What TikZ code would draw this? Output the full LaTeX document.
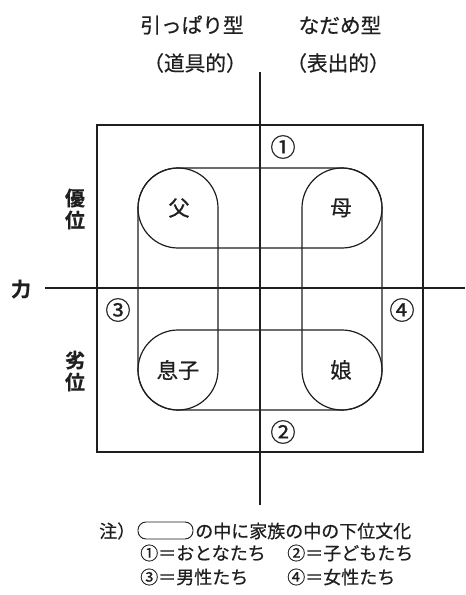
\documentclass[tikz,border=0pt]{standalone}
\usepackage{fontspec}
\setmainfont{Noto Sans CJK JP}[BoldFont={* Bold},FakeBold=0.6]
\usetikzlibrary{shapes.misc}
\definecolor{ink}{gray}{0.12}
\begin{document}
\begin{tikzpicture}[x=0.75pt,y=-0.75pt,
  frame/.style={draw=ink,line width=1.2pt},
  axis/.style={draw=ink,line width=0.8pt},
  pill/.style={draw=ink,line width=0.9pt,rounded corners=30pt},
  toptxt/.style={text=ink,inner sep=0pt,font=\fontsize{15.5pt}{16pt}\selectfont},
  lbl/.style={text=ink,inner sep=0pt,font=\fontsize{16pt}{16pt}\selectfont},
  num/.style={text=ink,inner sep=0pt,font=\fontsize{19pt}{19pt}\selectfont},
  side/.style={text=ink,inner sep=0pt,align=center,font=\fontsize{15pt}{16.5pt}\selectfont\bfseries},
  note/.style={text=ink,inner sep=0pt,anchor=west,font=\fontsize{13.5pt}{14pt}\selectfont}]
\useasboundingbox (0,0) rectangle (465,595);
\fill[white] (0,0) rectangle (465,595);
% top labels
\node[toptxt] (t1) at (192,25) {引っぱり型};
\node[toptxt] (t2) at (340,25) {なだめ型};
\node[toptxt] (t3) at (195,63) {（道具的）};
\node[toptxt] (t4) at (338,63) {（表出的）};
% frame
\draw[frame] (97,125) rectangle (423,452);
% axes
\coordinate (vt) at (260,72);
\coordinate (vb) at (260,505);
\coordinate (hl) at (45,288);
\coordinate (hr) at (465,288);
\draw[axis] (vt) -- (vb);
\draw[axis] (hl) -- (hr);
% pills
\draw[pill] (138,168) rectangle (382,248);
\draw[pill] (138,330) rectangle (382,410);
\draw[pill] (138,168) rectangle (218,410);
\draw[pill] (302,168) rectangle (382,410);
% inner labels
\node[lbl] (fa) at (179,208) {父};
\node[lbl] (mo) at (341,208) {母};
\node[lbl] (so) at (178,370) {息子};
\node[lbl] (da) at (341,370) {娘};
% circled numbers
\node[num] (n1) at (283,147) {①};
\node[num] (n2) at (283,432) {②};
\node[num] (n3) at (118,310) {③};
\node[num] (n4) at (402,310) {④};
% side labels
\node[side] (chikara) at (21,289) {力};
\node[side] (yui) at (75,209) {優\\位};
\node[side] (rei) at (75,371) {劣\\位};
% note
\node[note] (nt) at (99,531) {注）};
\draw[draw=ink,line width=0.7pt,rounded corners=6pt] (138,522) rectangle (193,539);
\node[note] (n0) at (195,531) {の中に家族の中の下位文化};
\node[note] (l1) at (140,553) {①＝おとなたち};
\node[note] (l2) at (287,553) {②＝子どもたち};
\node[note] (l3) at (140,577) {③＝男性たち};
\node[note] (l4) at (287,577) {④＝女性たち};
\end{tikzpicture}
\end{document}
